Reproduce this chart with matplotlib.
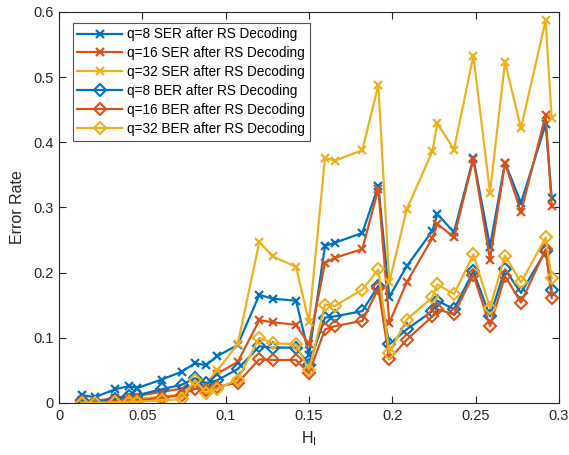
import matplotlib
matplotlib.use("Agg")
import matplotlib.pyplot as plt
from matplotlib.ticker import FuncFormatter

plt.rcParams['font.family'] = ['Liberation Sans', 'DejaVu Sans']

h_i = [0.0136, 0.0216, 0.0336, 0.042, 0.047, 0.0616, 0.0736, 0.0816, 0.0882, 0.095,
       0.1072, 0.1202, 0.1282, 0.1422, 0.15, 0.1596, 0.1656, 0.182, 0.1916, 0.1982,
       0.2086, 0.224, 0.227, 0.237, 0.2486, 0.2586, 0.2676, 0.2772, 0.292, 0.2956]

ser_q8 = [0.012, 0.009, 0.021, 0.026, 0.023, 0.036, 0.048, 0.061, 0.058, 0.072,
          0.089, 0.166, 0.16, 0.157, 0.074, 0.241, 0.246, 0.261, 0.333, 0.163,
          0.21, 0.264, 0.29, 0.262, 0.376, 0.24, 0.369, 0.307, 0.428, 0.315]
ser_q16 = [0.004, 0.003, 0.008, 0.011, 0.011, 0.017, 0.022, 0.027, 0.029, 0.045,
           0.063, 0.127, 0.124, 0.12, 0.09, 0.215, 0.223, 0.236, 0.329, 0.123,
           0.185, 0.253, 0.275, 0.254, 0.374, 0.22, 0.368, 0.293, 0.442, 0.303]
ser_q32 = [0.003, 0.002, 0.005, 0.006, 0.006, 0.01, 0.013, 0.03, 0.03, 0.05,
           0.09, 0.247, 0.225, 0.209, 0.124, 0.376, 0.372, 0.388, 0.488, 0.185,
           0.297, 0.386, 0.429, 0.389, 0.533, 0.323, 0.523, 0.422, 0.587, 0.437]
ber_q8 = [0.004, 0.002, 0.006, 0.01, 0.012, 0.021, 0.028, 0.038, 0.03, 0.035,
          0.052, 0.087, 0.085, 0.085, 0.059, 0.131, 0.133, 0.141, 0.18, 0.09,
          0.113, 0.141, 0.157, 0.144, 0.202, 0.133, 0.205, 0.169, 0.233, 0.174]
ber_q16 = [0.001, 0.0005, 0.003, 0.004, 0.004, 0.008, 0.012, 0.022, 0.02, 0.025,
           0.031, 0.067, 0.066, 0.066, 0.046, 0.113, 0.118, 0.126, 0.176, 0.067,
           0.097, 0.133, 0.144, 0.136, 0.197, 0.118, 0.195, 0.154, 0.236, 0.161]
ber_q32 = [0.0005, 0.0003, 0.001, 0.002, 0.002, 0.004, 0.006, 0.035, 0.015, 0.022,
           0.036, 0.1, 0.092, 0.09, 0.051, 0.151, 0.149, 0.174, 0.205, 0.077,
           0.128, 0.162, 0.182, 0.167, 0.228, 0.146, 0.226, 0.185, 0.254, 0.192]

labels = ['q=8 SER after RS Decoding', 'q=16 SER after RS Decoding',
          'q=32 SER after RS Decoding', 'q=8 BER after RS Decoding',
          'q=16 BER after RS Decoding', 'q=32 BER after RS Decoding']
colors = ['#0072BD', '#D95319', '#EDB120']

fig = plt.figure(figsize=(5.69, 4.55), dpi=100)
ax = fig.add_axes([59/569, 1 - 403/455, 500/569, 391/455])

for y, c, lab in zip([ser_q8, ser_q16, ser_q32], colors, labels[:3]):
    ax.plot(h_i, y, color=c, lw=1.6, marker='x', ms=5.5, mew=1.6, label=lab)
for y, c, lab in zip([ber_q8, ber_q16, ber_q32], colors, labels[3:]):
    ax.plot(h_i, y, color=c, lw=1.6, marker='D', ms=6.5, mew=1.5,
            mfc='none', mec=c, label=lab)

ax.set_xlim(0, 0.3)
ax.set_ylim(0, 0.6)
ax.set_xticks([0, 0.05, 0.1, 0.15, 0.2, 0.25, 0.3])
ax.set_yticks([0, 0.1, 0.2, 0.3, 0.4, 0.5, 0.6])
fmt = FuncFormatter(lambda v, p: '%g' % round(v, 4))
ax.xaxis.set_major_formatter(fmt)
ax.yaxis.set_major_formatter(fmt)
ax.tick_params(direction='in', length=5, width=0.8, top=True, right=True,
               labelsize=10.5, colors='#262626', pad=4)
for s in ax.spines.values():
    s.set_color('#262626')
    s.set_linewidth(0.8)

ax.set_xlabel(r'H$_\mathregular{I}$', fontsize=11.5, color='#262626', labelpad=5)
ax.set_ylabel('Error Rate', fontsize=11.5, color='#262626', labelpad=6)

leg = ax.legend(loc='upper left', bbox_to_anchor=(0.022, 0.98), fontsize=9.8,
                frameon=True, fancybox=False, edgecolor='#262626',
                handlelength=3.3, borderpad=0.35, labelspacing=0.36,
                handletextpad=0.35, borderaxespad=0.2)
leg.get_frame().set_linewidth(0.8)

fig.savefig('out.png', dpi=100)
